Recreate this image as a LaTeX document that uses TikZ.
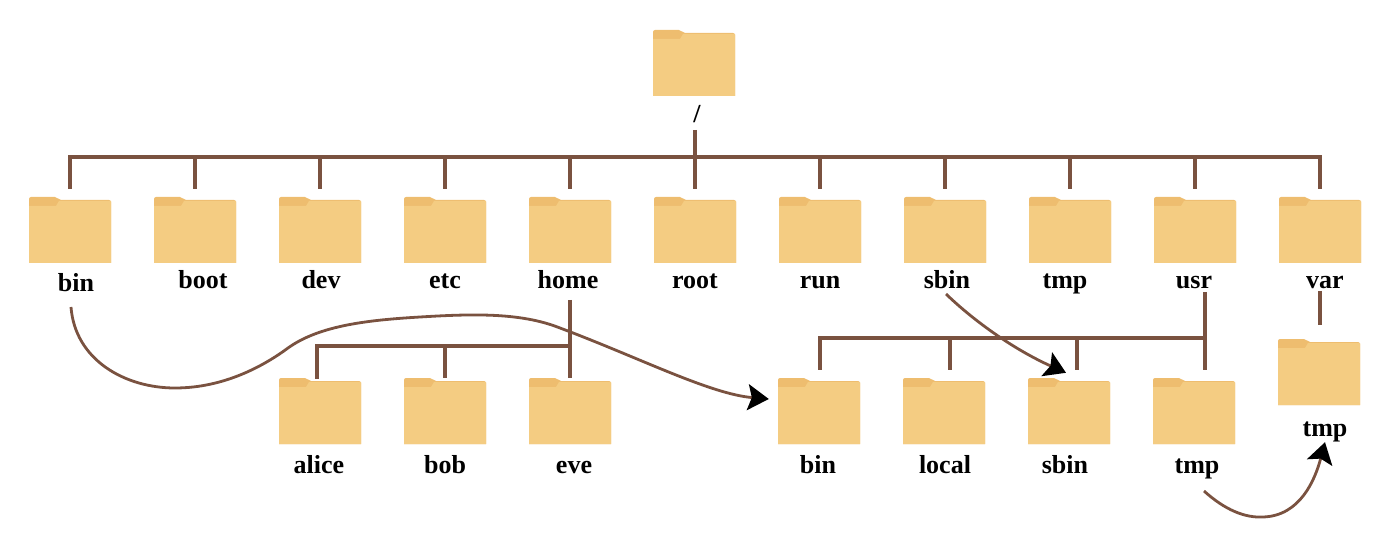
\documentclass[tikz,border=0pt]{standalone}
\usepackage{fontspec}
\setmainfont{Liberation Serif}
\usetikzlibrary{positioning,arrows.meta}
\definecolor{folderbody}{HTML}{F4CC82}
\definecolor{foldertab}{HTML}{EEBD6F}
\definecolor{treeline}{HTML}{7A5240}
\tikzstyle{folder}=[minimum width=82pt,minimum height=66pt,inner sep=0pt,path picture={
    \fill[foldertab] (-41,33) -- (-41,-30) [rounded corners=2pt] -- (-41,-33) -- (-13,-33) -- (-11,-30) -- (41,-30) [sharp corners] -- (41,33) -- cycle;
    \fill[folderbody] (-41,-24) -- (-14,-24) -- (-11,-29) -- (41,-29) -- (41,33) -- (-41,33) -- cycle;
  }]
\tikzstyle{title}=[inner sep=0pt,text height=18pt,text depth=6pt,font=\fontsize{26}{28}\selectfont\bfseries]
\tikzstyle{tree}=[treeline,line width=3.6pt]
\tikzstyle{link}=[treeline,line width=2.8pt,-{Stealth[black,length=21pt,width=26pt,inset=4pt]}]

\begin{document}
\begin{tikzpicture}[x=1pt,y=-1pt, node distance=125pt, on grid]
  \useasboundingbox (0,0) rectangle (1400,537);

  % top of the tree
  \node[folder] (top) at (694,63) {};
  \node[title] (slash) at (697,117) {/};

  % first level
  \node[folder] (bin) at (70,230) {};
  \node[folder, right=of bin] (boot) {};
  \node[folder, right=of boot] (dev) {};
  \node[folder, right=of dev] (etc) {};
  \node[folder, right=of etc] (home) {};
  \node[folder, right=of home] (root) {};
  \node[folder, right=of root] (run) {};
  \node[folder, right=of run] (sbin) {};
  \node[folder, right=of sbin] (tmp) {};
  \node[folder, right=of tmp] (usr) {};
  \node[folder, right=of usr] (var) {};

  \node[title] (bintext) at (76,285) {bin};
  \node[title] (boottext) at (203,283) {boot};
  \node[title] (devtext) at (321,283) {dev};
  \node[title] (etctext) at (445,283) {etc};
  \node[title] (hometext) at (568,283) {home};
  \node[title] (roottext) at (695,283) {root};
  \node[title] (runtext) at (820,283) {run};
  \node[title] (sbintext) at (947,283) {sbin};
  \node[title] (tmptext) at (1065,283) {tmp};
  \node[title] (usrtext) at (1194,283) {usr};
  \node[title] (vartext) at (1325,283) {var};

  % below home
  \node[folder] (alice) at (320,411) {};
  \node[folder, right=of alice] (bob) {};
  \node[folder, right=of bob] (eve) {};
  \node[title] (alicetext) at (319,467) {alice};
  \node[title] (bobtext) at (445,467) {bob};
  \node[title] (evetext) at (574,467) {eve};

  % below usr
  \node[folder] (usrbin) at (819,411) {};
  \node[folder, right=of usrbin] (local) {};
  \node[folder, right=of local] (usrsbin) {};
  \node[folder, right=of usrsbin] (usrtmp) {};
  \node[title] (usrbintext) at (818,467) {bin};
  \node[title] (localtext) at (945,467) {local};
  \node[title] (usrsbintext) at (1065,467) {sbin};
  \node[title] (usrtmptext) at (1197,467) {tmp};

  % below var
  \node[folder] (vartmp) at (1319,372) {};
  \node[title] (vartmptext) at (1325,430) {tmp};

  % first level bus
  \coordinate (stem) at (695,130);
  \coordinate (bus) at (695,157);
  \draw[tree] (stem) -- (bus);
  \draw[tree, line cap=rect] (bus -| bin) -- (bus -| var);
  \foreach \n in {bin,boot,dev,etc,home,root,run,sbin,tmp,usr,var}
    \draw[tree, shorten >=8pt] (bus -| \n) -- (\n.north);

  % home bus
  \coordinate (homestem) at (570,300);
  \coordinate (homebus) at (570,346);
  \draw[tree] (homestem) -- (eve.north);
  \draw[tree, line cap=rect] (homebus) -- (317,346);
  \draw[tree] (317,346) -- (317,379);
  \draw[tree] (homebus -| bob) -- (bob.north);

  % usr bus
  \coordinate (usrstem) at (1205,292);
  \coordinate (usrbus) at (1205,338);
  \draw[tree, shorten >=8pt] (usrstem) -- (usrstem |- usrtmp.north);
  \draw[tree, line cap=rect] (usrbus) -- (820,338);
  \draw[tree, shorten >=8pt] (820,338) -- (820,378);
  \draw[tree, shorten >=8pt] (950,338) -- (950,378);
  \draw[tree, shorten >=8pt] (1077,338) -- (1077,378);

  % var
  \coordinate (varstem) at (1320,291);
  \draw[tree, shorten >=14pt] (varstem) -- (vartmp.north -| varstem);

  % links
  \coordinate (binfrom) at (71,307);
  \draw[link] (binfrom) .. controls (75,360) and (125,388) .. (175,388)
    .. controls (225,388) and (265,365) .. (288,348)
    .. controls (320,325) and (370,320) .. (420,317)
    .. controls (470,314) and (520,312) .. (560,328)
    .. controls (640,358) and (710,394) .. ([xshift=-9pt,yshift=12pt]usrbin.west);
  \coordinate (sbinfrom) at (946,294);
  \draw[link] (sbinfrom) .. controls (975,322) and (1015,350) .. ([xshift=-3pt,yshift=5pt]usrsbin.north);
  \coordinate (tmpfrom) at (1204,491);
  \draw[link] (tmpfrom) .. controls (1225,510) and (1245,518) .. (1263,517)
    .. controls (1300,516) and (1315,480) .. (vartmptext.south);
\end{tikzpicture}
\end{document}
